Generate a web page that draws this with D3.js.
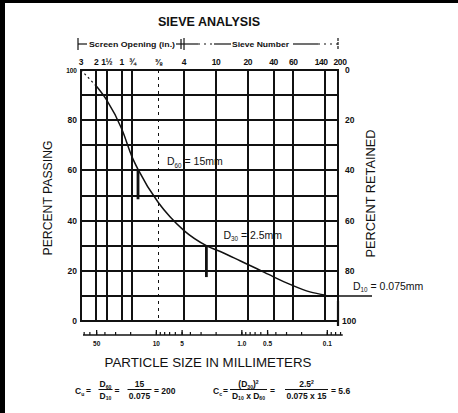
<!DOCTYPE html>
<html><head><meta charset="utf-8">
<script src="https://cdn.jsdelivr.net/npm/d3@7"></script>
<style>
html,body{margin:0;padding:0;background:#fff;}
svg{display:block;}
text{font-family:"Liberation Sans",Arial,sans-serif;fill:#111;}
</style></head>
<body>
<svg id="c" width="458" height="413"></svg>
<script>
// ---- data ----
const sieveLabels = ["3","2","1½","1","¾","⅜","4","10","20","40","60","140","200"];
const sieveSizes  = [76.2, 50.8, 38.1, 25.4, 19.05, 9.5, 4.75, 2.0, 0.85, 0.425, 0.25, 0.106, 0.075];
const sieveDotted = ["⅜"];
const gradSizes   = [76.2, 50.8, 38.1, 25.4, 19.05, 16.4, 9.5, 6.93, 4.75, 2.6, 1.66, 1.05, 0.665, 0.432, 0.273, 0.16, 0.1035];
const gradPassing = [100, 93.7, 88, 76.5, 65, 60.4, 47.2, 41.5, 36, 30, 27.2, 24.0, 20.8, 17.7, 14.6, 11.6, 10.3];
const passTicks   = [0, 20, 40, 60, 80, 100];
const gridPercent = [10, 20, 30, 40, 50, 60, 70, 80, 90];
const mmLabels    = ["50", "10", "5", "1.0", "0.5", "0.1"];
const mmValues    = [50, 10, 5, 1, 0.5, 0.1];
const dMarkers    = [{label:"60", size:16.4, from:60, to:48.5, text:" = 15mm"},
                     {label:"30", size:2.6, from:30, to:17.5, text:" = 2.5mm"}];
const d10 = {size:0.075, pct:10, label:"10", text:" = 0.075mm"};

const svg = d3.select("#c");
const x = d3.scaleLog().domain([76.2, 0.075]).range([81, 338]);
const y = d3.scaleLinear().domain([0, 100]).range([321, 70]);
const yR = d3.scaleLinear().domain([100, 0]).range([321, 70]);
const ink = "#111";

// title
svg.append("text").attr("x",209).attr("y",26).attr("text-anchor","middle")
  .attr("font-size",12).attr("font-weight","bold").attr("textLength",102).attr("lengthAdjust","spacingAndGlyphs")
  .text("SIEVE ANALYSIS");

// bracket row
const by = 44;
const br = svg.append("g").attr("stroke",ink).attr("stroke-width",1.2);
br.append("line").attr("x1",x(76.2)-3).attr("x2",x(76.2)-3).attr("y1",by-6).attr("y2",by+6);
br.append("line").attr("x1",x(76.2)-3).attr("x2",x(76.2)+6).attr("y1",by).attr("y2",by);
br.append("line").attr("x1",x(4.75)-8).attr("x2",x(4.75)+14).attr("y1",by).attr("y2",by);
br.append("line").attr("x1",x(4.75)-3).attr("x2",x(4.75)-3).attr("y1",by-5).attr("y2",by+5);
br.append("line").attr("x1",x(4.75)).attr("x2",x(4.75)).attr("y1",by-6).attr("y2",by+6);
br.append("line").attr("x1",x(4.75)+14).attr("x2",x(4.75)+30).attr("y1",by).attr("y2",by).attr("stroke-dasharray","2,4");
br.append("line").attr("x1",x(4.75)+30).attr("x2",x(4.75)+47).attr("y1",by).attr("y2",by);
br.append("line").attr("x1",x(0.075)-45).attr("x2",x(0.075)-20).attr("y1",by).attr("y2",by);
br.append("line").attr("x1",x(0.075)-20).attr("x2",x(0.075)).attr("y1",by).attr("y2",by).attr("stroke-dasharray","2,4");
br.append("line").attr("x1",x(0.075)).attr("x2",x(0.075)).attr("y1",by-6).attr("y2",by+6).attr("stroke-dasharray","3,1");
svg.append("text").attr("x",x(76.2)+8).attr("y",by+2.8).attr("font-size",7.5).attr("font-weight","bold")
  .attr("textLength",86).attr("lengthAdjust","spacingAndGlyphs").text("Screen Opening (in.)");
svg.append("text").attr("x",x(4.75)+48).attr("y",by+2.8).attr("font-size",7.5).attr("font-weight","bold")
  .attr("textLength",57).attr("lengthAdjust","spacingAndGlyphs").text("Sieve Number");

// top sieve labels
svg.append("g").selectAll("text").data(sieveSizes).join("text")
  .attr("x",(d,i)=>x(d) + (sieveLabels[i]==="140"?-4:sieveLabels[i]==="200"?2:0)).attr("y",65).attr("text-anchor","middle")
  .attr("font-size",8.5).attr("font-weight","bold").attr("letter-spacing",-0.4).text((d,i)=>sieveLabels[i]);

// grid
const g = svg.append("g");
g.selectAll("line.h").data(gridPercent).join("line").attr("class","h")
  .attr("x1",x(76.2)).attr("x2",x(0.075)).attr("y1",d=>Math.round(y(d))).attr("y2",d=>Math.round(y(d)))
  .attr("stroke",ink).attr("stroke-width",2).attr("shape-rendering","crispEdges");
g.selectAll("line.v").data(sieveSizes).join("line").attr("class","v")
  .attr("x1",d=>Math.round(x(d))).attr("x2",d=>Math.round(x(d))).attr("y1",y(100)).attr("y2",y(0))
  .attr("stroke",ink).attr("shape-rendering","crispEdges")
  .attr("stroke-width",(d,i)=>sieveDotted.includes(sieveLabels[i])?1:2)
  .attr("stroke-dasharray",(d,i)=>sieveDotted.includes(sieveLabels[i])?"3,4":null);
// frame
g.append("rect").attr("x",x(76.2)).attr("y",y(100)).attr("width",x(0.075)-x(76.2)).attr("height",y(0)-y(100))
  .attr("fill","none").attr("stroke",ink).attr("stroke-width",2).attr("shape-rendering","crispEdges");
g.append("line").attr("x1",x(0.075)).attr("x2",x(0.075)).attr("y1",y(0)-20).attr("y2",y(0)+5)
  .attr("stroke",ink).attr("stroke-width",2.2);

// left/right percent labels
svg.append("g").selectAll("text").data(passTicks).join("text")
  .attr("x",x(76.2)-4).attr("y",d=>y(d)+3).attr("text-anchor","end")
  .attr("font-size",d=>d===100?6.5:8.5).attr("font-weight","bold").text(d=>d);
svg.append("g").selectAll("text").data(passTicks).join("text")
  .attr("x",d=>x(0.075)+(d===100?4:7)).attr("y",d=>yR(d)+3).attr("text-anchor","start")
  .attr("font-size",8.5).attr("font-weight","bold").text(d=>d);

// axis titles
svg.append("text").attr("transform",`translate(52,${(y(100)+y(0))/2+60}) rotate(-90)`)
  .attr("font-size",12.5).attr("textLength",115).attr("lengthAdjust","spacingAndGlyphs").text("PERCENT PASSING");
svg.append("text").attr("transform",`translate(375,${(y(100)+y(0))/2+62}) rotate(-90)`)
  .attr("font-size",12.5).attr("textLength",128).attr("lengthAdjust","spacingAndGlyphs").text("PERCENT RETAINED");

// bottom mm axis
const ax = 335;
const minor = [];
[0.01,0.1,1,10].forEach(p=>{for(let k=1;k<10;k++){const v=k*p; if(v<=76.2 && v>=0.066) minor.push(v);}});
const ba = svg.append("g").attr("stroke",ink);
ba.append("line").attr("x1",x(76.2)+2).attr("x2",x(0.066)).attr("y1",ax).attr("y2",ax).attr("stroke-width",1.3);
ba.selectAll("line.t").data(minor).join("line").attr("class","t")
  .attr("x1",d=>x(d)).attr("x2",d=>x(d)).attr("y1",ax).attr("y2",ax-3).attr("stroke-width",1.2);
ba.selectAll("line.m").data(mmValues).join("line").attr("class","m")
  .attr("x1",d=>x(d)).attr("x2",d=>x(d)).attr("y1",ax).attr("y2",ax-5).attr("stroke-width",1.3);
svg.append("g").selectAll("text").data(mmValues).join("text")
  .attr("x",d=>x(d)).attr("y",ax+11).attr("text-anchor","middle")
  .attr("font-size",6.5).attr("font-weight","bold").text((d,i)=>mmLabels[i]);
svg.append("text").attr("x",208).attr("y",367).attr("text-anchor","middle")
  .attr("font-size",13).attr("textLength",207).attr("lengthAdjust","spacingAndGlyphs").text("PARTICLE SIZE IN MILLIMETERS");

// gradation curve
const pts = gradSizes.map((s,i)=>[x(s), y(gradPassing[i])]);
svg.append("path").attr("d",d3.line()(pts.slice(0,2)))
  .attr("fill","none").attr("stroke",ink).attr("stroke-width",1.2).attr("stroke-dasharray","2,3");
svg.append("path").attr("d",d3.line().curve(d3.curveMonotoneX)(pts.slice(1)))
  .attr("fill","none").attr("stroke",ink).attr("stroke-width",1.5);

// rich text helper (sub / sup via dy bookkeeping)
function rich(xp, yp, parts, size, anchor, bold){
  const t = svg.append("text").attr("x",xp).attr("y",yp).attr("font-size",size)
    .attr("text-anchor",anchor||"start").attr("font-weight",bold?"bold":null);
  let cur = 0;
  parts.forEach(p=>{
    let target = 0, fsz = size, s = p;
    if(typeof p!=="string"){ if(p.sub!==undefined){target=size*0.2; s=p.sub;} else {target=-size*0.4; s=p.sup;} fsz=size*0.6; }
    t.append("tspan").attr("dy",target-cur).attr("font-size",fsz).text(s);
    cur = target;
  });
  return t;
}

// D markers + labels
dMarkers.forEach(m=>{
  svg.append("line").attr("x1",x(m.size)).attr("x2",x(m.size)).attr("y1",y(m.from)).attr("y2",y(m.to))
    .attr("stroke",ink).attr("stroke-width",2.8);
});
rich(x(dMarkers[0].size)+29, y(dMarkers[0].from)-5, ["D",{sub:dMarkers[0].label},dMarkers[0].text], 10.5);
rich(x(dMarkers[1].size)+17, y(dMarkers[1].from)-7, ["D",{sub:dMarkers[1].label},dMarkers[1].text], 10.5);
svg.append("line").attr("x1",x(d10.size)-4).attr("x2",x(d10.size)+34).attr("y1",y(d10.pct)).attr("y2",y(d10.pct))
  .attr("stroke",ink).attr("stroke-width",1.5);
rich(x(d10.size)+15, y(d10.pct)-6, ["D",{sub:d10.label},d10.text], 10.5);

// formulas
const fs = 8.5, base = 394;
function frac(cx, num, den, w){
  rich(cx, 387, num, fs, "middle", true);
  svg.append("line").attr("x1",cx-w/2).attr("x2",cx+w/2).attr("y1",389.5).attr("y2",389.5)
    .attr("stroke",ink).attr("stroke-width",1);
  rich(cx, 398.5, den, fs, "middle", true);
}
rich(75, base, ["C",{sub:"u"}], fs, "start", true);
rich(86, base, ["="], fs, "start", true);
frac(105.5, ["D",{sub:"60"}], ["D",{sub:"10"}], 14);
rich(114.5, base, ["="], fs, "start", true);
frac(139.5, ["15"], ["0.075"], 24);
rich(154, base, ["= 200"], fs, "start", true);

rich(213, base, ["C",{sub:"c"}], fs, "start", true);
rich(223, base, ["="], fs, "start", true);
frac(248.5, ["(D",{sub:"30"},")",{sup:"2"}], ["D",{sub:"10"}," x D",{sub:"60"}], 37);
rich(270, base, ["="], fs, "start", true);
frac(306.5, ["2.5",{sup:"2"}], ["0.075 x 15"], 43);
rich(331, base, ["= 5.6"], fs, "start", true);

// page frame (scan border), drawn last
svg.append("rect").attr("x",0).attr("y",0).attr("width",5).attr("height",413).attr("fill","#000");
svg.append("rect").attr("x",0).attr("y",0).attr("width",458).attr("height",3).attr("fill","#000");
</script>
</body></html>
